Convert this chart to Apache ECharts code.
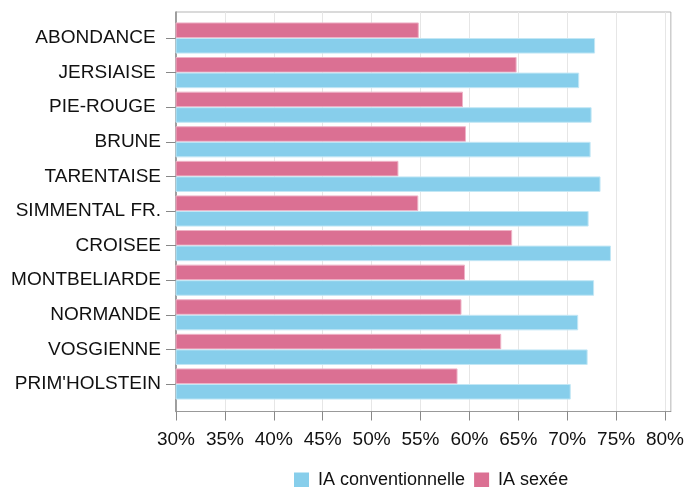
<!DOCTYPE html>
<html>
<head>
<meta charset="utf-8">
<script src="https://cdn.jsdelivr.net/npm/echarts@6/dist/echarts.min.js"></script>
<style>html,body{margin:0;padding:0;background:#fff}#c{width:687px;height:487px}</style>
</head>
<body>
<div id="c"></div>
<script>
// Data (top-to-bottom order as in the chart)
const categories = ['ABONDANCE ', 'JERSIAISE ', 'PIE-ROUGE ', 'BRUNE', 'TARENTAISE', 'SIMMENTAL FR.', 'CROISEE', 'MONTBELIARDE', 'NORMANDE', 'VOSGIENNE', "PRIM'HOLSTEIN"];
const iaConventionnelle = [72.2, 70.6, 71.85, 71.75, 72.75, 71.55, 73.8, 72.1, 70.5, 71.45, 69.75];
const iaSexee = [54.45, 64.3, 58.9, 59.2, 52.4, 54.4, 63.85, 59.1, 58.75, 62.75, 58.35];
const tickValues = [30, 35, 40, 45, 50, 55, 60, 65, 70, 75, 80];
const seriesNames = ['IA conventionnelle', 'IA sexée'];

const FONT = '"Liberation Sans", Arial, sans-serif';
const chart = echarts.init(document.getElementById('c'), null, {renderer: 'canvas'});
const xMin = 30, xMax = 80.6;

chart.setOption({
  animation: false,
  backgroundColor: '#fff',
  textStyle: {fontFamily: FONT},
  legend: {
    data: seriesNames,
    left: 289, top: 466,
    itemWidth: 15, itemHeight: 15, itemGap: 9,
    icon: 'rect',
    itemStyle: {borderWidth: 0},
    textStyle: {fontSize: 18, color: '#111', fontFamily: FONT, padding: [0, 0, 0, 4]}
  },
  grid: [
    {left: 176, right: 8.5, top: 12, bottom: 75.5, show: true, borderColor: '#b5b5b5', borderWidth: 1, backgroundColor: 'transparent'},
    {left: 176, right: 8.5, top: 20.7, bottom: 85.7}
  ],
  xAxis: [
    {
      type: 'value', gridIndex: 0, min: xMin, max: xMax, interval: 5,
      axisLine: {show: true, lineStyle: {color: '#999', width: 1}},
      axisTick: {show: true, length: 9, lineStyle: {color: '#888'}, customValues: tickValues},
      axisLabel: {customValues: tickValues, formatter: v => v + '%', fontSize: 19, color: '#111', margin: 19, fontFamily: FONT},
      splitLine: {show: true, lineStyle: {color: '#e6e6e6', width: 1}}
    },
    {type: 'value', gridIndex: 1, min: xMin, max: xMax, show: false}
  ],
  yAxis: [
    {
      type: 'value', gridIndex: 0, min: 0, max: 1,
      axisLine: {show: true, lineStyle: {color: '#888', width: 1.5}},
      axisTick: {show: false}, axisLabel: {show: false}, splitLine: {show: false}
    },
    {
      type: 'category', gridIndex: 1, data: categories, inverse: true,
      axisLine: {show: false},
      axisTick: {show: true, alignWithLabel: true, length: 10, lineStyle: {color: '#888'}},
      axisLabel: {fontSize: 19, color: '#111', margin: 15, fontFamily: FONT},
      splitLine: {show: false}
    }
  ],
  series: [
    {
      name: seriesNames[1], type: 'bar', xAxisIndex: 1, yAxisIndex: 1, data: iaSexee,
      barGap: '0%', barCategoryGap: '10%',
      itemStyle: {color: '#DB7093', borderColor: '#eeb3c7', borderWidth: 1}
    },
    {
      name: seriesNames[0], type: 'bar', xAxisIndex: 1, yAxisIndex: 1, data: iaConventionnelle,
      barGap: '0%', barCategoryGap: '10%',
      itemStyle: {color: '#87CEEB', borderColor: '#c2e7f5', borderWidth: 1}
    }
  ]
});
</script>
</body>
</html>
